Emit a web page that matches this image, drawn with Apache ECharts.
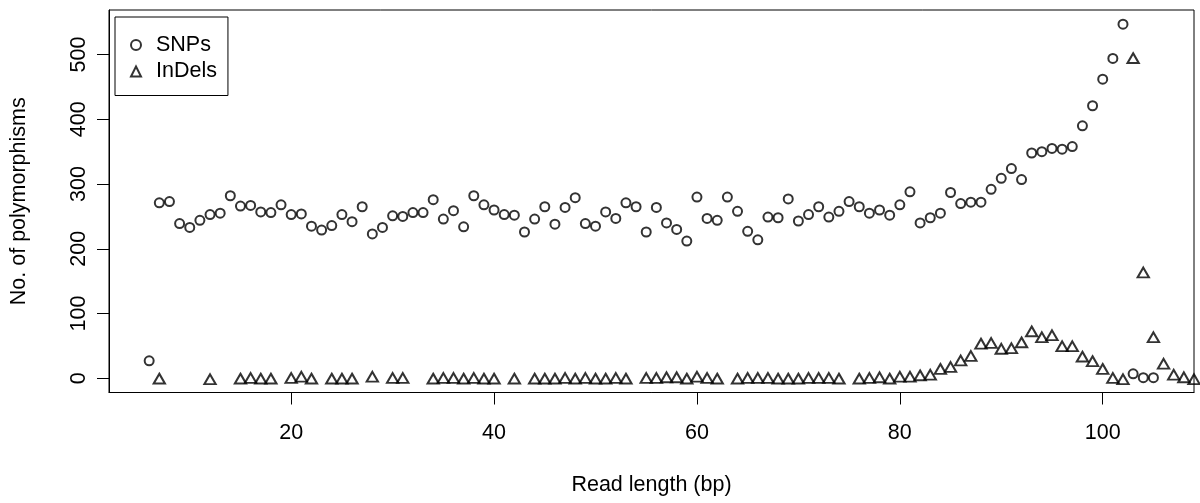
<!DOCTYPE html>
<html><head><meta charset="utf-8">
<script src="https://cdn.jsdelivr.net/npm/echarts@6/dist/echarts.min.js"></script>
<style>html,body{margin:0;padding:0;background:#fff}#c{width:1200px;height:503px}</style>
</head><body><div id="c"></div>
<script>
// Read length (bp) for SNP counts
const snpLength = [6,7,8,9,10,11,12,13,14,15,16,17,18,19,20,21,22,23,24,25,26,27,28,29,30,31,32,33,34,35,36,37,38,39,40,41,42,43,44,45,46,47,48,49,50,51,52,53,54,55,56,57,58,59,60,61,62,63,64,65,66,67,68,69,70,71,72,73,74,75,76,77,78,79,80,81,82,83,84,85,86,87,88,89,90,91,92,93,94,95,96,97,98,99,100,101,102,103,104,105];
const snpCount = [27,271,273,239,233,244,253,255,282,266,267,257,256,268,253,254,235,229,236,253,242,265,223,233,251,250,256,256,276,246,259,234,282,268,260,253,252,226,246,265,238,264,279,239,235,257,247,271,265,226,264,240,230,212,280,247,244,280,258,227,214,249,248,277,243,253,265,249,258,273,265,255,260,252,268,288,240,248,255,287,270,272,272,292,309,324,307,348,350,355,354,358,390,421,462,494,547,7,1,1];
// Read length (bp) for InDel counts
const indelLength = [7,12,15,16,17,18,20,21,22,24,25,26,28,30,31,34,35,36,37,38,39,40,42,44,45,46,47,48,49,50,51,52,53,55,56,57,58,59,60,61,62,64,65,66,67,68,69,70,71,72,73,74,76,77,78,79,80,81,82,83,84,85,86,87,88,89,90,91,92,93,94,95,96,97,98,99,100,101,102,103,104,105,106,107,108,109];
const indelCount = [2,1,2,3,2,2,3,5,2,2,2,2,5,3,3,2,3,3,2,3,2,2,2,2,2,2,3,2,3,2,2,3,2,3,3,4,4,2,5,3,2,2,3,3,3,2,2,2,3,3,3,2,2,3,4,2,5,5,7,8,17,20,30,37,56,57,48,49,58,75,66,69,52,52,36,29,17,3,1,497,166,66,25,8,4,1];
const xTicks = [20,40,60,80,100];
const yTicks = [0,100,200,300,400,500];

const FONT = '"Liberation Sans", Arial, Helvetica, sans-serif';
const chart = echarts.init(document.getElementById('c'), null, {renderer:'canvas'});
const option = {
  animation: false,
  backgroundColor: '#fff',
  grid: {left:108, right:6, top:10, bottom:110.5, show:true, borderColor:'#000', borderWidth:1, backgroundColor:'transparent'},
  legend: {
    orient:'vertical', left:115, top:17,
    padding:[17,11,13,15], itemGap:4.5, itemWidth:10, itemHeight:10,
    borderColor:'#000', borderWidth:1, borderRadius:0,
    selectedMode:false,
    textStyle:{fontSize:21.5, color:'#000', fontFamily:FONT, padding:[0,0,0,10], lineHeight:22},
    data:[{name:'SNPs', icon:'circle'},{name:'InDels', icon:'triangle'}]
  },
  xAxis: {
    type:'value', min:2.04, max:109,
    axisLine:{show:true, onZero:false, lineStyle:{color:'#000', width:1}},
    splitLine:{show:false},
    axisTick:{show:true, inside:false, length:12, customValues:xTicks, lineStyle:{color:'#000', width:1}},
    axisLabel:{customValues:xTicks, margin:30, fontSize:21.5, color:'#000', fontFamily:FONT},
    name:'Read length (bp)', nameLocation:'middle', nameGap:82,
    nameTextStyle:{fontSize:21.5, color:'#000', fontFamily:FONT, verticalAlign:'top'}
  },
  yAxis: {
    type:'value', min:-21.88, max:568.88,
    axisLine:{show:true, onZero:false, lineStyle:{color:'#000', width:1}},
    splitLine:{show:false},
    axisTick:{show:true, inside:false, length:12, customValues:yTicks, lineStyle:{color:'#000', width:1}},
    axisLabel:{customValues:yTicks, margin:18.5, rotate:90, fontSize:21.5, color:'#000', fontFamily:FONT},
    name:'No. of polymorphisms', nameLocation:'middle', nameGap:79,
    nameTextStyle:{fontSize:21.5, color:'#000', fontFamily:FONT}
  },
  series: [
    {
      type:'scatter', name:'SNPs',
      data: snpLength.map((x,i)=>[x, snpCount[i]]),
      symbol:'circle', symbolSize:9,
      itemStyle:{color:'rgba(255,255,255,0)', borderColor:'#000', borderWidth:2},
      emphasis:{disabled:true}
    },
    {
      type:'scatter', name:'InDels',
      data: indelLength.map((x,i)=>[x, indelCount[i]]),
      symbol:'triangle', symbolSize:[11.3,9.8], symbolOffset:[0,1.6],
      itemStyle:{color:'rgba(255,255,255,0)', borderColor:'#000', borderWidth:2},
      emphasis:{disabled:true}
    }
  ]
};
chart.setOption(option);
</script>
</body></html>
